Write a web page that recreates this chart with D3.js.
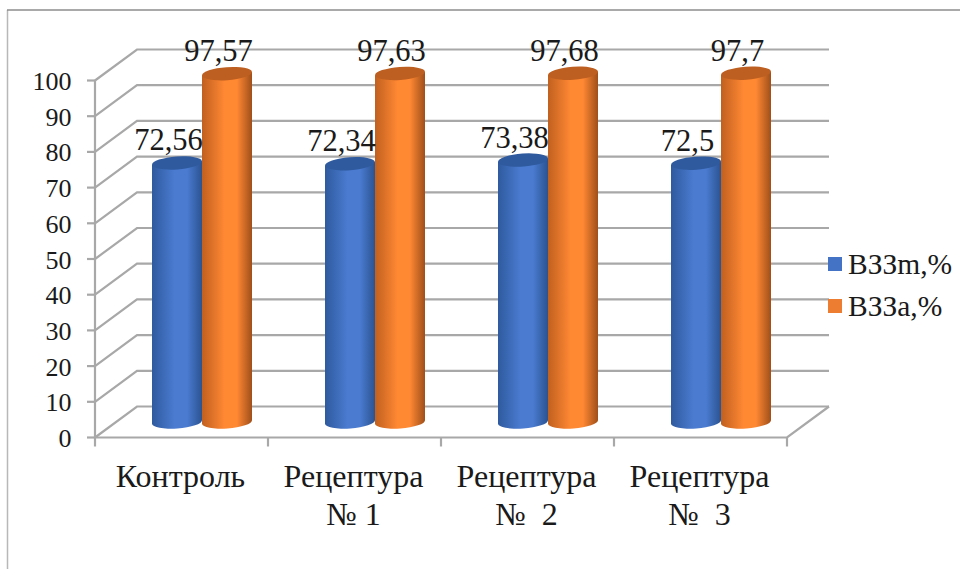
<!DOCTYPE html>
<html>
<head>
<meta charset="utf-8">
<style>
html,body{margin:0;padding:0;background:#fff}
text{font-family:"Liberation Serif",serif;fill:#1a1a1a}
</style>
<script src="https://cdn.jsdelivr.net/npm/d3@7/dist/d3.min.js"></script>
</head>
<body>
<svg id="chart" width="960" height="569"></svg>
<script>
// Chart values
const categories = [["Контроль"], ["Рецептура", "№ 1"], ["Рецептура", "№  2"], ["Рецептура", "№  3"]];
const seriesNames = ["ВЗЗm,%", "ВЗЗа,%"];
const seriesM = [72.56, 72.34, 73.38, 72.5];
const seriesA = [97.57, 97.63, 97.68, 97.7];
const seriesLabels = [["72,56", "72,34", "73,38", "72,5"], ["97,57", "97,63", "97,68", "97,7"]];
const yTicks = [0, 10, 20, 30, 40, 50, 60, 70, 80, 90, 100];

const palette = [
  {left: "#2f5a9e", mid: "#4a7bd0", right: "#2b5391", top: "#2f5a9e", swatch: "#4472c4"},
  {left: "#c0601f", mid: "#ff8833", right: "#9f4f1a", top: "#bd5f20", swatch: "#ed7d31"}
];

// 3D box: front plane plus the depth offset to the back wall
const depthX = 42, depthY = -31;
const front = {left: 95, right: 787, bottom: 437.5, top: 80.5};

const svg = d3.select("#chart");
const y = d3.scaleLinear().domain([0, 100]).range([front.bottom, front.top]);
const xFront = d3.scaleBand().domain(d3.range(categories.length)).range([front.left, front.right]);
// Cylinders stand in the middle of the depth
const xMid = xFront.copy().range([front.left + depthX / 2, front.right + depthX / 2]);
const xSeries = d3.scaleBand().domain([0, 1]).range([-50, 50]);
const yBar = v => y(v) + depthY / 2;

// Outer frame
svg.append("path").attr("d", "M7.5,569V10").attr("fill", "none").attr("stroke", "#b8b8b8").attr("stroke-width", 1.5);
svg.append("path").attr("d", "M7,10H960").attr("fill", "none").attr("stroke", "#8c8c8c").attr("stroke-width", 1.5);

// Grid on the back and left walls
const grid = svg.append("g").attr("fill", "none").attr("stroke", "#a8a8a8").attr("stroke-width", 2.2);
yTicks.forEach(t => {
  const yy = y(t);
  grid.append("path").attr("d", `M${front.left},${yy}L${front.left + depthX},${yy + depthY}H${front.right + depthX}`);
  grid.append("line").attr("x1", front.left - 8).attr("x2", front.left).attr("y1", yy).attr("y2", yy);
});
// Axis lines, floor edge and category ticks
grid.append("path").attr("d", `M${front.left},${y(100)}V${y(0)}H${front.right}L${front.right + depthX},${y(0) + depthY}`);
d3.range(categories.length + 1).forEach(i => {
  const xx = i < categories.length ? xFront(i) : front.right;
  grid.append("line").attr("x1", xx).attr("x2", xx).attr("y1", y(0)).attr("y2", y(0) + 9);
});

// Horizontal shading across each cylinder
const defs = svg.append("defs");
palette.forEach((c, i) => {
  const g = defs.append("linearGradient").attr("id", "cyl" + i);
  g.append("stop").attr("offset", "0%").attr("stop-color", c.left);
  g.append("stop").attr("offset", "45%").attr("stop-color", c.mid);
  g.append("stop").attr("offset", "70%").attr("stop-color", c.mid);
  g.append("stop").attr("offset", "100%").attr("stop-color", c.right);
});

// Draws one cylinder with an ellipse cap tilted by the projection
function cylinder(cx, value, i) {
  const rx = xSeries.bandwidth() / 2, ry = 6.5, tilt = -4;
  const yt = yBar(value), yb = yBar(0);
  const dy = rx * Math.sin(tilt * Math.PI / 180);
  const g = svg.append("g");
  g.append("path")
    .attr("d", `M${cx - rx},${yt - dy}L${cx - rx},${yb - dy}A${rx},${ry} ${tilt} 0 0 ${cx + rx},${yb + dy}L${cx + rx},${yt + dy}Z`)
    .attr("fill", `url(#cyl${i})`);
  g.append("ellipse").attr("cx", cx).attr("cy", yt).attr("rx", rx).attr("ry", ry)
    .attr("transform", `rotate(${tilt} ${cx} ${yt})`).attr("fill", palette[i].top);
}

const seriesValues = [seriesM, seriesA];
const barCenter = (c, s) => xMid(c) + xMid.bandwidth() / 2 + xSeries(s) + xSeries.bandwidth() / 2 - 0.5;
categories.forEach((_, c) => {
  seriesValues.forEach((vals, s) => cylinder(barCenter(c, s), vals[c], s));
});
// Value labels sit above the caps, drawn last so they overlap the grid
categories.forEach((_, c) => {
  seriesValues.forEach((vals, s) => {
    svg.append("text").attr("x", barCenter(c, s) - 8.5).attr("y", yBar(vals[c]) - 12.5)
      .attr("text-anchor", "middle").attr("font-size", 30.5).text(seriesLabels[s][c]);
  });
});

// Value axis labels
yTicks.forEach(t => {
  svg.append("text").attr("x", 71.5).attr("y", y(t) + 9.5).attr("text-anchor", "end").attr("font-size", 26).text(t);
});

// Category labels
categories.forEach((lines, c) => {
  const cx = xFront(c) + xFront.bandwidth() / 2 - 1;
  lines.forEach((line, k) => {
    svg.append("text").attr("x", cx).attr("y", 487 + k * 38).attr("text-anchor", "middle")
      .attr("font-size", 32).style("white-space", "pre").text(line);
  });
});

// Legend
seriesNames.forEach((name, i) => {
  const ly = 264 + i * 42;
  svg.append("rect").attr("x", 828).attr("y", ly - 7).attr("width", 14).attr("height", 14).attr("fill", palette[i].swatch);
  svg.append("text").attr("x", 848).attr("y", ly + 10).attr("font-size", 29.5).text(name);
});
</script>
</body>
</html>
